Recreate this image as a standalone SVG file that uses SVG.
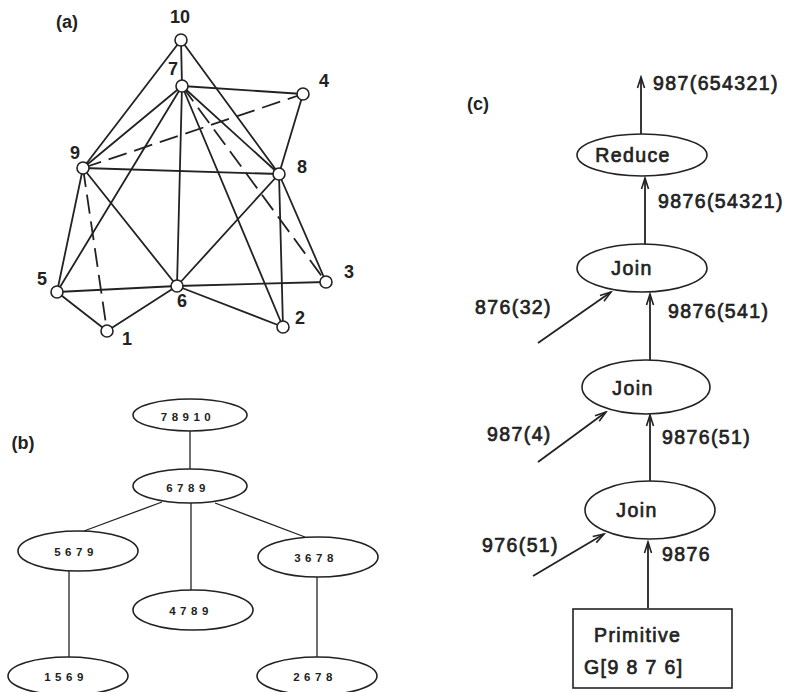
<svg xmlns="http://www.w3.org/2000/svg" width="785" height="692" viewBox="0 0 785 692">
  <style>
    .edge { stroke: #222; stroke-width: 1.8; fill: none; stroke-linecap: round; }
    .dash { stroke-dasharray: 19 8; stroke-linecap: butt; }
    .vtx { fill: #fff; stroke: #222; stroke-width: 1.6; }
    .lab { font-family: "Liberation Sans", Arial, sans-serif; font-weight: bold; font-size: 18px; fill: #222; }
    .tree { fill: #fff; stroke: #222; stroke-width: 1.6; }
    .tline { stroke: #222; stroke-width: 1.3; fill: none; }
    .tlab { font-family: "Liberation Sans", Arial, sans-serif; font-weight: bold; font-size: 11.5px; letter-spacing: 4.5px; fill: #222; }
    .op { fill: #fff; stroke: #222; stroke-width: 1.6; }
    .arc { stroke: #222; stroke-width: 1.8; fill: none; }
    .clab { font-family: "Liberation Sans", Arial, sans-serif; font-size: 19.5px; letter-spacing: 1.4px; fill: #222; stroke: #222; stroke-width: 0.7px; }
  </style>
  <defs>
    <marker id="head" markerUnits="userSpaceOnUse" markerWidth="14" markerHeight="10" refX="0" refY="0" viewBox="-12 -5 14 10" orient="auto">
      <path d="M -11 -3.5 L 0 0 L -11 3.5" fill="none" stroke="#222" stroke-width="1.6"/>
    </marker>
  </defs>
  <rect width="785" height="692" fill="#fff"/>

  <!-- (a) graph -->
  <text class="lab" x="67" y="28" text-anchor="middle">(a)</text>
  <g id="a-edges">
    <line class="edge" x1="181" y1="40" x2="182" y2="86"/>
    <line class="edge" x1="181" y1="40" x2="83" y2="168"/>
    <line class="edge" x1="181" y1="40" x2="279" y2="174"/>
    <line class="edge" x1="182" y1="86" x2="303" y2="94"/>
    <line class="edge" x1="182" y1="86" x2="83" y2="168"/>
    <line class="edge" x1="182" y1="86" x2="57" y2="292"/>
    <line class="edge" x1="182" y1="86" x2="177" y2="286"/>
    <line class="edge" x1="182" y1="86" x2="283" y2="327"/>
    <line class="edge" x1="182" y1="86" x2="279" y2="174"/>
    <line class="edge dash" x1="182" y1="86" x2="326" y2="282"/>
    <line class="edge" x1="303" y1="94" x2="279" y2="174"/>
    <line class="edge dash" x1="83" y1="168" x2="303" y2="94"/>
    <line class="edge" x1="83" y1="168" x2="279" y2="174"/>
    <line class="edge" x1="83" y1="168" x2="57" y2="292"/>
    <line class="edge dash" x1="83" y1="168" x2="107" y2="331"/>
    <line class="edge" x1="83" y1="168" x2="177" y2="286"/>
    <line class="edge" x1="279" y1="174" x2="177" y2="286"/>
    <line class="edge" x1="279" y1="174" x2="283" y2="327"/>
    <line class="edge" x1="279" y1="174" x2="326" y2="282"/>
    <line class="edge" x1="57" y1="292" x2="177" y2="286"/>
    <line class="edge" x1="57" y1="292" x2="107" y2="331"/>
    <line class="edge" x1="107" y1="331" x2="177" y2="286"/>
    <line class="edge" x1="177" y1="286" x2="326" y2="282"/>
    <line class="edge" x1="177" y1="286" x2="283" y2="327"/>
  </g>
  <g id="v10"><circle class="vtx" cx="181" cy="40" r="6"/><text class="lab" x="180" y="23" text-anchor="middle">10</text></g>
  <g id="v7"><circle class="vtx" cx="182" cy="86" r="6"/><text class="lab" x="173" y="75" text-anchor="middle">7</text></g>
  <g id="v4"><circle class="vtx" cx="303" cy="94" r="6"/><text class="lab" x="324" y="87" text-anchor="middle">4</text></g>
  <g id="v9"><circle class="vtx" cx="83" cy="168" r="6"/><text class="lab" x="75" y="159" text-anchor="middle">9</text></g>
  <g id="v8"><circle class="vtx" cx="279" cy="174" r="6"/><text class="lab" x="302" y="173" text-anchor="middle">8</text></g>
  <g id="v5"><circle class="vtx" cx="57" cy="292" r="6"/><text class="lab" x="42" y="285" text-anchor="middle">5</text></g>
  <g id="v6"><circle class="vtx" cx="177" cy="286" r="6"/><text class="lab" x="182" y="307" text-anchor="middle">6</text></g>
  <g id="v1"><circle class="vtx" cx="107" cy="331" r="6"/><text class="lab" x="127" y="345" text-anchor="middle">1</text></g>
  <g id="v2"><circle class="vtx" cx="283" cy="327" r="6"/><text class="lab" x="300" y="324" text-anchor="middle">2</text></g>
  <g id="v3"><circle class="vtx" cx="326" cy="282" r="6"/><text class="lab" x="349" y="278" text-anchor="middle">3</text></g>

  <!-- (b) tree -->
  <text class="lab" x="23" y="449" text-anchor="middle">(b)</text>
  <g id="b-edges">
    <line class="tline" x1="190" y1="431" x2="190" y2="469"/>
    <line class="tline" x1="162" y1="502" x2="84" y2="531"/>
    <line class="tline" x1="191" y1="503" x2="191" y2="590"/>
    <line class="tline" x1="215" y1="503" x2="305" y2="537"/>
    <line class="tline" x1="69" y1="571" x2="69" y2="657"/>
    <line class="tline" x1="317" y1="577" x2="317" y2="657"/>
  </g>
  <g id="t78910"><ellipse class="tree" cx="190" cy="415" rx="57" ry="16"/><text class="tlab" x="188" y="421" text-anchor="middle">78910</text></g>
  <g id="t6789"><ellipse class="tree" cx="190" cy="486" rx="57" ry="17"/><text class="tlab" x="188" y="492" text-anchor="middle">6789</text></g>
  <g id="t5679"><ellipse class="tree" cx="78" cy="551" rx="60" ry="20"/><text class="tlab" x="76" y="556" text-anchor="middle">5679</text></g>
  <g id="t4789"><ellipse class="tree" cx="193" cy="610" rx="60" ry="20"/><text class="tlab" x="191" y="615" text-anchor="middle">4789</text></g>
  <g id="t3678"><ellipse class="tree" cx="318" cy="557" rx="60" ry="20"/><text class="tlab" x="316" y="562" text-anchor="middle">3678</text></g>
  <g id="t1569"><ellipse class="tree" cx="68" cy="676" rx="60" ry="19"/><text class="tlab" x="66" y="681" text-anchor="middle">1569</text></g>
  <g id="t2678"><ellipse class="tree" cx="317" cy="676" rx="60" ry="19"/><text class="tlab" x="315" y="681" text-anchor="middle">2678</text></g>

  <!-- (c) operator tree -->
  <text class="lab" x="478" y="110" text-anchor="middle">(c)</text>
  <g id="c-arcs">
    <line class="arc" x1="641" y1="134" x2="641" y2="77" marker-end="url(#head)"/>
    <line class="arc" x1="645" y1="244" x2="645" y2="178" marker-end="url(#head)"/>
    <line class="arc" x1="650" y1="360" x2="650" y2="294" marker-end="url(#head)"/>
    <line class="arc" x1="650" y1="481" x2="650" y2="415" marker-end="url(#head)"/>
    <line class="arc" x1="648" y1="608" x2="648" y2="542" marker-end="url(#head)"/>
    <line class="arc" x1="538" y1="343" x2="611" y2="292" marker-end="url(#head)"/>
    <line class="arc" x1="538" y1="462" x2="606" y2="412" marker-end="url(#head)"/>
    <line class="arc" x1="533" y1="576" x2="604" y2="534" marker-end="url(#head)"/>
    <text class="clab" x="653" y="90">987(654321)</text>
    <text class="clab" x="658" y="208">9876(54321)</text>
    <text class="clab" x="668" y="318">9876(541)</text>
    <text class="clab" x="662" y="444">9876(51)</text>
    <text class="clab" x="662" y="561">9876</text>
    <text class="clab" x="475" y="314">876(32)</text>
    <text class="clab" x="487" y="441">987(4)</text>
    <text class="clab" x="482" y="552">976(51)</text>
  </g>
  <g id="reduce"><ellipse class="op" cx="642" cy="155" rx="65" ry="21"/><text class="clab" x="633" y="162" text-anchor="middle">Reduce</text></g>
  <g id="join1"><ellipse class="op" cx="642" cy="268" rx="65" ry="24"/><text class="clab" x="632" y="275" text-anchor="middle">Join</text></g>
  <g id="join2"><ellipse class="op" cx="646" cy="387" rx="64" ry="27"/><text class="clab" x="633" y="395" text-anchor="middle">Join</text></g>
  <g id="join3"><ellipse class="op" cx="650" cy="510" rx="65" ry="29"/><text class="clab" x="637" y="517" text-anchor="middle">Join</text></g>
  <g id="primitive"><rect class="op" x="573" y="609" width="159" height="79"/><text class="clab" x="594" y="642">Primitive</text><text class="clab" x="584" y="674">G[9 8 7 6]</text></g>
</svg>
